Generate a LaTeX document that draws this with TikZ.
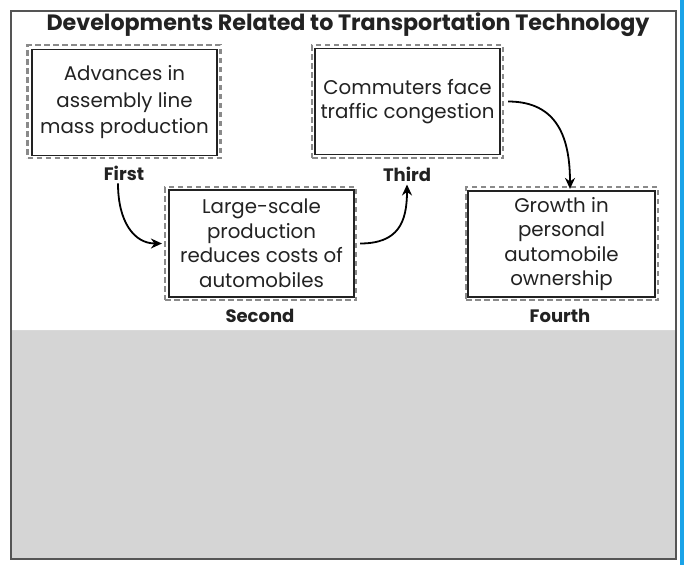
\documentclass[tikz,border=0pt]{standalone}
\usepackage{fontspec}
\setmainfont{Poppins}
\usetikzlibrary{arrows.meta}
\definecolor{txt}{HTML}{222222}
\definecolor{dashgray}{HTML}{8A8A8A}
\definecolor{framegray}{HTML}{555555}
\definecolor{fillgray}{HTML}{D5D5D5}
\definecolor{bluebar}{HTML}{1AA3E8}
\tikzset{
  outerbox/.style={draw=dashgray, line width=2.2pt, dash pattern=on 5.5pt off 3.5pt, inner sep=0pt},
  innerbox/.style={draw=txt, line width=1.1pt, inner sep=0pt, align=center, text=txt,
     font=\fontsize{19.8}{24.5}\selectfont},
  lbl/.style={font=\fontsize{18}{21}\selectfont\bfseries, text=txt, inner sep=2pt},
  arr/.style={line width=1.8pt, draw=black, -{Stealth[length=11pt,width=10pt]}}
}
\begin{document}
\begin{tikzpicture}[x=1pt,y=-1pt]
\useasboundingbox (0,0) rectangle (684,565);
\fill[white] (0,0) rectangle (684,565);
% blue bar
\fill[bluebar] (680,0) rectangle (684,565);
% gray lower region
\fill[fillgray] (11,330) rectangle (675,558);
\draw[white!85!black, line width=1pt] (11,330.5) -- (675,330.5);
% frame
\draw[framegray, line width=2pt] (11,11) rectangle (676,559);
% title
\node[font=\fontsize{22.2}{26}\selectfont\bfseries, text=txt] (title) at (348,25) {Developments Related to Transportation Technology};
% boxes
\node[outerbox, minimum width=193pt, minimum height=113pt] (b1o) at (124,101.5) {};
\node[innerbox, minimum width=185pt, minimum height=106pt, font=\fontsize{19.8}{26.5}\selectfont] (b1) at (124.5,102.5) {Advances in\\assembly line\\mass production};
\node[outerbox, minimum width=191pt, minimum height=113pt] (b3o) at (407.5,101.5) {};
\node[innerbox, minimum width=185pt, minimum height=106pt] (b3) at (407.5,101.5) {Commuters face\\traffic congestion};
\node[outerbox, minimum width=191pt, minimum height=113pt] (b2o) at (260.5,243.5) {};
\node[innerbox, minimum width=185pt, minimum height=107pt] (b2) at (261.5,243.5) {Large-scale\\production\\reduces costs of\\automobiles};
\node[outerbox, minimum width=192pt, minimum height=113pt] (b4o) at (562,243.5) {};
\node[innerbox, minimum width=187pt, minimum height=106pt] (b4) at (561.5,244) {Growth in\\personal\\automobile\\ownership};
% labels
\node[lbl] (first) at (124,173) {First};
\node[lbl] (third) at (407,174) {Third};
\node[lbl] (second) at (260,316) {Second};
\node[lbl] (fourth) at (560,316) {Fourth};
% arrows
\draw[arr] ([xshift=-6pt,yshift=-1pt]first.south) .. controls +(0,38) and +(-28,0) .. ([xshift=-2pt]b2o.west);
\draw[arr] ([xshift=3pt]b2o.east) .. controls +(38,0) and +(0,38) .. ([yshift=-1pt]third.south);
\draw[arr] ([xshift=4pt]b3o.east) .. controls +(50,0) and +(0,-50) .. ([xshift=8pt,yshift=-3pt]b4o.north);
\end{tikzpicture}
\end{document}
